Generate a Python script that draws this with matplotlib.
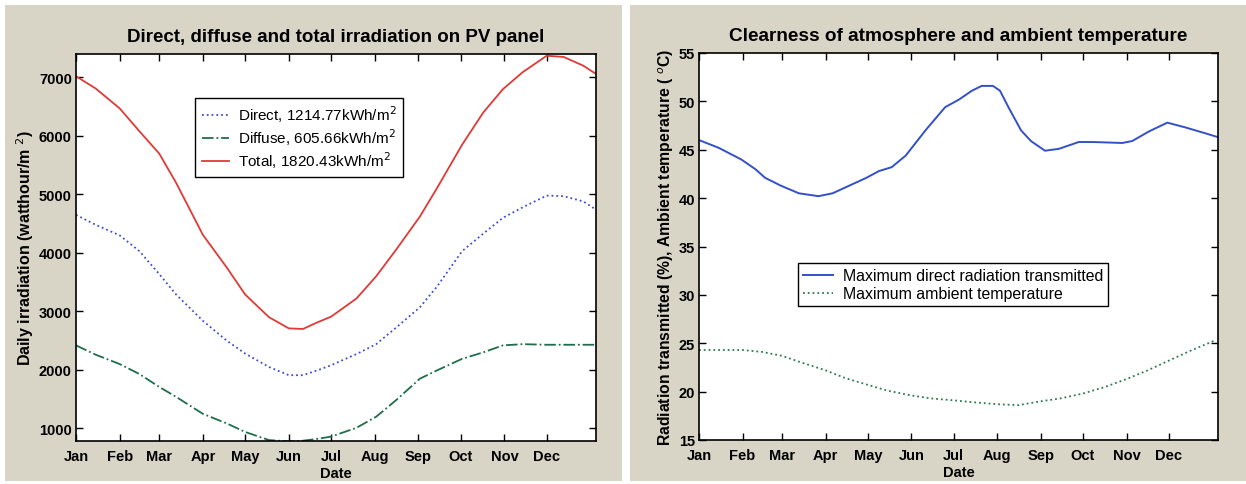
import numpy as np
import matplotlib.pyplot as plt
from matplotlib.patches import Rectangle

# Month ticks (day of year at start of each month)
month_days = [1, 32, 60, 91, 121, 152, 182, 213, 244, 274, 305, 335]
month_labels = ['Jan', 'Feb', 'Mar', 'Apr', 'May', 'Jun',
                'Jul', 'Aug', 'Sep', 'Oct', 'Nov', 'Dec']

# Left panel: daily irradiation on PV panel (Wh/m^2)
irr_days = [1, 15, 32, 46, 60, 72, 91, 108, 121, 138, 152, 162, 172, 182, 200,
            214, 228, 245, 257, 275, 290, 304, 318, 335, 347, 361, 370]
total = [7020, 6810, 6470, 6080, 5700, 5200, 4310, 3750, 3290, 2900, 2710, 2700,
         2810, 2910, 3220, 3600, 4050, 4620, 5100, 5850, 6400, 6800, 7090, 7370,
         7350, 7200, 7060]
direct = [4650, 4480, 4300, 4030, 3640, 3290, 2840, 2500, 2280, 2050, 1910, 1910,
          1990, 2080, 2270, 2440, 2720, 3070, 3420, 4030, 4330, 4600, 4780, 4980,
          4970, 4880, 4740]
diffuse = [2420, 2260, 2100, 1930, 1710, 1540, 1250, 1085, 940, 800, 780, 790,
           820, 860, 1010, 1200, 1480, 1850, 1990, 2190, 2300, 2420, 2440, 2430,
           2430, 2430, 2430]

# Right panel: clearness of atmosphere and ambient temperature
trans_days = [1, 15, 31, 41, 48, 59, 72, 86, 96, 108, 120, 129, 138, 148, 162,
              176, 186, 195, 202, 210, 215, 221, 230, 237, 247, 257, 271, 281,
              302, 309, 321, 334, 347, 361, 370]
transmitted = [46.0, 45.2, 44.0, 43.0, 42.1, 41.3, 40.5, 40.2, 40.5, 41.3, 42.1,
               42.8, 43.2, 44.4, 47.0, 49.4, 50.2, 51.1, 51.6, 51.6, 51.1, 49.4,
               47.0, 45.9, 44.9, 45.1, 45.8, 45.8, 45.7, 45.9, 46.9, 47.8, 47.3,
               46.7, 46.3]
temp_days = [1, 32, 46, 60, 74, 91, 105, 121, 135, 152, 166, 182, 196, 213, 228,
             244, 258, 274, 290, 305, 320, 335, 350, 368]
temperature = [24.3, 24.3, 24.1, 23.7, 23.0, 22.2, 21.4, 20.7, 20.1, 19.6, 19.3,
               19.1, 18.9, 18.7, 18.6, 19.0, 19.3, 19.8, 20.5, 21.3, 22.2, 23.2,
               24.2, 25.3]

plt.rcParams['font.family'] = ['Liberation Sans', 'DejaVu Sans']

W, H = 1246, 485
fig = plt.figure(figsize=(W / 100, H / 100), dpi=100)
fig.patch.set_facecolor('white')

bg = '#d8d5c7'
fig.patches.append(Rectangle((5 / W, 3 / H), 617 / W, 476 / H, transform=fig.transFigure,
                             facecolor=bg, edgecolor='none', zorder=-10))
fig.patches.append(Rectangle((630 / W, 3 / H), 616 / W, 476 / H, transform=fig.transFigure,
                             facecolor=bg, edgecolor='none', zorder=-10))


def add_axes(px_left, px_right, px_top, px_bottom):
    return fig.add_axes([px_left / W, 1 - px_bottom / H,
                         (px_right - px_left) / W, (px_bottom - px_top) / H])


def style(ax):
    ax.set_xlim(1, 370)
    ax.set_xticks(month_days)
    ax.set_xticklabels(month_labels)
    ax.tick_params(direction='in', top=True, right=True, length=5, width=1,
                   labelsize=10.5)
    ax.tick_params(axis='x', pad=6)
    ax.tick_params(axis='y', pad=3)
    for lab in ax.get_xticklabels() + ax.get_yticklabels():
        lab.set_fontweight('bold')
    for s in ax.spines.values():
        s.set_linewidth(1.2)
    ax.set_xlabel('Date', fontsize=10.5, fontweight='bold', labelpad=2)


# Left panel
ax1 = add_axes(76, 596, 55, 442)
ax1.plot(irr_days, direct, ':', color='#3a4fd0', lw=1.3,
         label='Direct, 1214.77kWh/m$^2$')
ax1.plot(irr_days, diffuse, '-.', color='#1f6e4a', lw=1.3,
         label='Diffuse, 605.66kWh/m$^2$')
ax1.plot(irr_days, total, '-', color='#e03a36', lw=1.3,
         label='Total, 1820.43kWh/m$^2$')
ax1.set_ylim(785, 7400)
ax1.set_yticks([1000, 2000, 3000, 4000, 5000, 6000, 7000])
style(ax1)
ax1.set_title('Direct, diffuse and total irradiation on PV panel',
              fontsize=13.5, fontweight='bold', pad=9)
ax1.set_ylabel('Daily irradiation (watthour/m $^2$)', fontsize=11.5,
               fontweight='bold', labelpad=2)
leg1 = ax1.legend(loc='upper left', bbox_to_anchor=(0.215, 0.907), fontsize=11,
                  fancybox=False, edgecolor='black', framealpha=1,
                  handlelength=1.8, handletextpad=0.6, borderpad=0.4,
                  labelspacing=0.15)
leg1.get_frame().set_linewidth(1.0)

# Right panel
ax2 = add_axes(699, 1218, 54, 441)
ax2.plot(trans_days, transmitted, '-', color='#3350c8', lw=1.4,
         label='Maximum direct radiation transmitted')
ax2.plot(temp_days, temperature, ':', color='#2c7a55', lw=1.3,
         label='Maximum ambient temperature')
ax2.set_ylim(15, 55)
ax2.set_yticks(range(15, 56, 5))
style(ax2)
ax2.set_title('Clearness of atmosphere and ambient temperature',
              fontsize=13.7, fontweight='bold', pad=9)
ax2.set_ylabel('Radiation transmitted (%), Ambient temperature ( $^o$C)',
               fontsize=11.3, fontweight='bold', labelpad=2)
leg2 = ax2.legend(loc='upper left', bbox_to_anchor=(0.176, 0.477), fontsize=11.4,
                  fancybox=False, edgecolor='black', framealpha=1,
                  handlelength=1.9, handletextpad=0.6, borderpad=0.3,
                  labelspacing=0.2)
leg2.get_frame().set_linewidth(1.0)

fig.savefig('out.png', dpi=100)
